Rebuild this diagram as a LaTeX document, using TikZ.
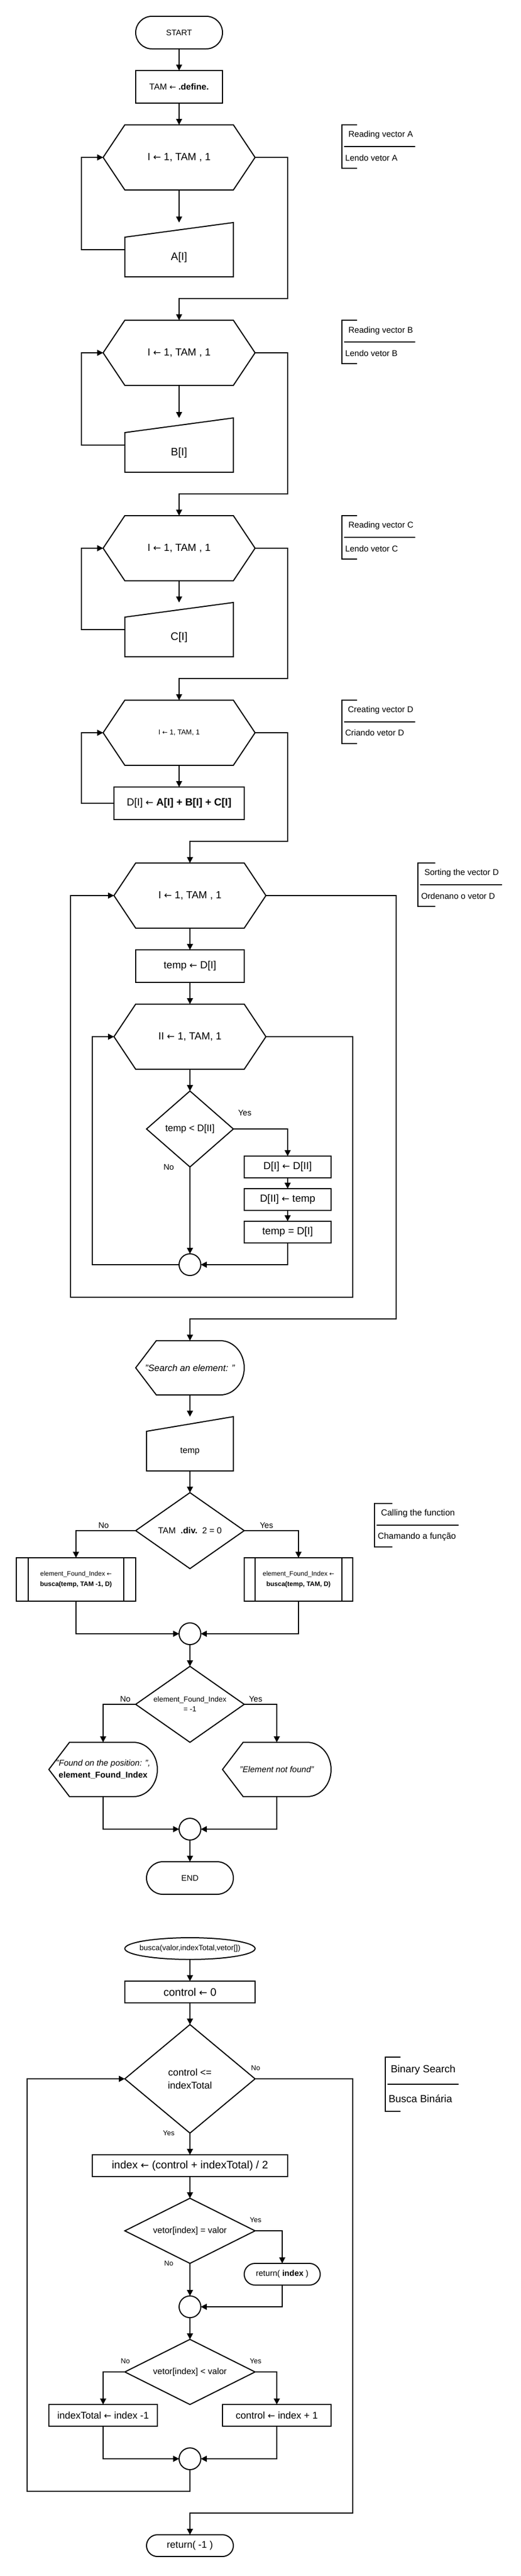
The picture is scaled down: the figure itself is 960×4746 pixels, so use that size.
\documentclass[tikz,border=0pt]{standalone}
\usepackage{fontspec}
\setmainfont{Liberation Sans}
\newfontfamily\arrowfont[Scale=0.9]{DejaVu Sans}
\usetikzlibrary{arrows.meta,shapes.geometric}
\newcommand\la{{\arrowfont ←}}
\newcommand\fs[2]{\fontsize{#1}{#2}\selectfont}
\tikzset{
  every node/.style={inner sep=0pt, outer sep=0pt, align=center},
  shp/.style={line width=2pt},
  ln/.style={line width=1.8pt},
  arr/.style={ln, -{Triangle[length=11pt,width=11pt]}},
  ghost/.style={rectangle},
  proc/.style={rectangle, draw, shp},
  term/.style={rectangle, draw, shp, rounded corners=#1},
  junc/.style={circle, draw, shp, minimum size=40pt},
  ellip/.style={ellipse, draw, shp},
  yn/.style={font=\fs{15}{18}},
  yns/.style={font=\fs{13}{16}},
  ann/.style={anchor=west, font=\fs{15.5}{18}},
  annb/.style={anchor=west, font=\fs{19}{22}}
}
% hexagon (loop)
\newcommand\hexa[4][\fs{19}{23}]{%
  \node[ghost, minimum width=280pt, minimum height=120pt, font=#1] (#2) at (#3) {#4};
  \draw[shp] (#2.west) -- ([xshift=40pt]#2.north west) -- ([xshift=-40pt]#2.north east)
    -- (#2.east) -- ([xshift=-40pt]#2.south east) -- ([xshift=40pt]#2.south west) -- cycle;}
% manual input
\newcommand\manin[5][\fs{20}{24}]{%
  \node[ghost, minimum width=#4pt, minimum height=100pt,
    label={[font=#1, yshift=-14pt]center:#5}] (#2) at (#3) {};
  \draw[shp] ([yshift=-27pt]#2.north west) -- (#2.north east) -- (#2.south east)
    -- (#2.south west) -- cycle;}
% decision
\newcommand\dia[6][]{%
  \node[ghost, minimum width=#4pt, minimum height=#5pt, #1] (#2) at (#3) {#6};
  \draw[shp] (#2.north) -- (#2.east) -- (#2.south) -- (#2.west) -- cycle;}
% display
\newcommand\disp[5][]{%
  \node[ghost, minimum width=#4pt, minimum height=100pt, #1] (#2) at (#3) {#5};
  \draw[shp] (#2.west) -- ([xshift=38pt]#2.north west) -- ([xshift=-44pt]#2.north east)
    arc[start angle=90, end angle=-90, x radius=44pt, y radius=50pt]
    -- ([xshift=38pt]#2.south west) -- cycle;}
% predefined process
\newcommand\subr[6][]{%
  \node[proc, minimum width=#4pt, minimum height=80pt, #1] (#2) at (#3) {#6};
  \draw[shp] ([xshift=#5pt]#2.north west) -- ([xshift=#5pt]#2.south west);
  \draw[shp] ([xshift=-#5pt]#2.north east) -- ([xshift=-#5pt]#2.south east);}
% annotation bracket
\newcommand\annot[6]{%
  \draw[shp] (#5,#2) -- (#1,#2) -- (#1,#4) -- (#5,#4);
  \draw[shp] (#1+4,#3) -- (#6,#3);}
\begin{document}
\begin{tikzpicture}[x=1pt,y=-1pt]
\useasboundingbox (0,0) rectangle (960,4746);
\fill[white] (0,0) rectangle (960,4746);

% ================= main program
\node[term=30pt, minimum width=160pt, minimum height=60pt, font=\fs{15}{18}] (start) at (330,60) {START};
\node[proc, minimum width=160pt, minimum height=60pt, font=\fs{16}{19}] (tam) at (330,160) {TAM \la{} \textbf{.define.}};
\hexa{h1}{330,290}{I \la{} 1, TAM , 1}
\manin{ia}{330,460}{200}{A[I]}
\hexa{h2}{330,650}{I \la{} 1, TAM , 1}
\manin{ib}{330,820}{200}{B[I]}
\hexa{h3}{330,1010}{I \la{} 1, TAM , 1}
\manin{ic}{330,1160}{200}{C[I]}
\hexa[\fs{13}{16}]{h4}{330,1350}{I \la{} 1, TAM, 1}
\node[proc, minimum width=240pt, minimum height=60pt, font=\fs{19}{23}] (dsum) at (330,1480) {D[I] \la{} \textbf{A[I] + B[I] + C[I]}};

\draw[arr] (start) -- (tam);
\draw[arr] (tam) -- (h1.north);
\draw[arr] (h1.south) -- (ia.north);
\draw[arr] (ia.west) -- ++(-80,0) |- (h1.west);
\draw[arr] (h1.east) -- ++(60,0) -- ++(0,260) -| (h2.north);
\draw[arr] (h2.south) -- (ib.north);
\draw[arr] (ib.west) -- ++(-80,0) |- (h2.west);
\draw[arr] (h2.east) -- ++(60,0) -- ++(0,260) -| (h3.north);
\draw[arr] (h3.south) -- (ic.north);
\draw[arr] (ic.west) -- ++(-80,0) |- (h3.west);
\draw[arr] (h3.east) -- ++(60,0) -- ++(0,240) -| (h4.north);
\draw[arr] (h4.south) -- (dsum.north);
\draw[arr] (dsum.west) -- ++(-60,0) |- (h4.west);

% ---- sorting
\hexa{h5}{350,1650}{I \la{} 1, TAM , 1}
\node[proc, minimum width=200pt, minimum height=60pt, font=\fs{19}{23}] (tmp) at (350,1780) {temp \la{} D[I]};
\hexa{h6}{350,1910}{II \la{} 1, TAM, 1}
\dia[font=\fs{17.5}{21}]{d1}{350,2080}{160}{140}{temp < D[II]}
\node[proc, minimum width=160pt, minimum height=40pt, font=\fs{19}{23}] (b1) at (530,2150) {D[I] \la{} D[II]};
\node[proc, minimum width=160pt, minimum height=40pt, font=\fs{19}{23}] (b2) at (530,2210) {D[II] \la{} temp};
\node[proc, minimum width=160pt, minimum height=40pt, font=\fs{19}{23}] (b3) at (530,2270) {temp = D[I]};
\node[junc] (j1) at (350,2330) {};
\node[yn] (y1) at (451,2050) {Yes};
\node[yn] (n1) at (311,2150) {No};

\draw[arr] (h4.east) -- ++(60,0) -- ++(0,200) -| (h5.north);
\draw[arr] (h5.south) -- (tmp.north);
\draw[arr] (tmp.south) -- (h6.north);
\draw[arr] (h6.south) -- (d1.north);
\draw[arr] (d1.east) -| (b1.north);
\draw[arr] (b1.south) -- (b2.north);
\draw[arr] (b2.south) -- (b3.north);
\draw[arr] (b3.south) |- (j1.east);
\draw[arr] (d1.south) -- (j1.north);
\draw[arr] (j1.west) -- ++(-160,0) |- (h6.west);
\draw[arr] (h6.east) -- ++(160,0) -- ++(0,480) -- ++(-520,0) |- (h5.west);

% ---- search
\disp[font=\fs{17}{20}\itshape]{srch}{350,2520}{200}{"Search an element: "}
\manin[\fs{16}{19}]{itemp}{350,2660}{160}{temp}
\dia[font=\fs{16}{19}]{d2}{350,2820}{200}{140}{TAM\ \ \textbf{.div.}\ \ 2 = 0}
\subr[font=\fs{12}{19}]{s1}{140,2910}{220}{22}{element\_Found\_Index \la{}\\\textbf{busca(temp, TAM -1, D)}}
\subr[font=\fs{12}{19}]{s2}{550,2910}{200}{20}{element\_Found\_Index \la{}\\\textbf{busca(temp, TAM, D)}}
\node[junc] (j2) at (350,3010) {};
\dia[font=\fs{13.5}{18}]{d3}{350,3140}{200}{140}{element\_Found\_Index\\= -1}
\disp[font=\fs{15.5}{22}]{o1}{190,3260}{200}{\textit{"Found on the position: ",}\\\textbf{element\_Found\_Index}}
\disp[font=\fs{15.5}{19}\itshape]{o2}{510,3260}{200}{"Element not found"}
\node[junc] (j3) at (350,3370) {};
\node[term=30pt, minimum width=160pt, minimum height=60pt, font=\fs{15}{18}] (fim) at (350,3460) {END};
\node[yn] (n2) at (191,2810) {No};
\node[yn] (y2) at (491,2810) {Yes};
\node[yn] (n3) at (231,3130) {No};
\node[yn] (y3) at (471,3130) {Yes};

\draw[arr] (h5.east) -- ++(240,0) -- ++(0,780) -| (srch.north);
\draw[arr] (srch.south) -- (itemp.north);
\draw[arr] (itemp.south) -- (d2.north);
\draw[arr] (d2.west) -| (s1.north);
\draw[arr] (d2.east) -| (s2.north);
\draw[arr] (s1.south) |- (j2.west);
\draw[arr] (s2.south) |- (j2.east);
\draw[arr] (j2.south) -- (d3.north);
\draw[arr] (d3.west) -| (o1.north);
\draw[arr] (d3.east) -| (o2.north);
\draw[arr] (o1.south) |- (j3.west);
\draw[arr] (o2.south) |- (j3.east);
\draw[arr] (j3.south) -- (fim.north);

% ================= binary search function
\node[ellip, minimum width=240pt, minimum height=40pt, font=\fs{14}{17}] (busca) at (350,3590) {\makebox[0pt]{busca(valor,indexTotal,vetor[])}};
\node[proc, minimum width=240pt, minimum height=40pt, font=\fs{20}{24}] (ctrl) at (350,3670) {control \la{} 0};
\dia[font=\fs{18}{24}]{d4}{350,3830}{240}{200}{control <=\\indexTotal}
\node[proc, minimum width=360pt, minimum height=40pt, font=\fs{20}{24}] (idx) at (350,3990) {index \la{} (control + indexTotal) / 2};
\dia[font=\fs{16}{19}]{d5}{350,4110}{240}{120}{vetor[index] = valor}
\node[term=20pt, minimum width=140pt, minimum height=40pt, font=\fs{15}{18}] (ret1) at (520,4190) {return( \textbf{index} )};
\node[junc] (j4) at (350,4250) {};
\dia[font=\fs{16}{19}]{d6}{350,4370}{240}{120}{vetor[index] < valor}
\node[proc, minimum width=200pt, minimum height=40pt, font=\fs{18}{22}] (bl) at (190,4450) {indexTotal \la{} index -1};
\node[proc, minimum width=200pt, minimum height=40pt, font=\fs{18}{22}] (br) at (510,4450) {control \la{} index + 1};
\node[junc] (j5) at (350,4530) {};
\node[term=20pt, minimum width=160pt, minimum height=40pt, font=\fs{18}{22}] (ret2) at (350,4690) {return( -1 )};
\node[yns] (n4) at (471,3810) {No};
\node[yns] (y4) at (311,3930) {Yes};
\node[yns] (y5) at (471,4090) {Yes};
\node[yns] (n5) at (311,4170) {No};
\node[yns] (n6) at (231,4350) {No};
\node[yns] (y6) at (471,4350) {Yes};

\draw[arr] (busca.south) -- (ctrl.north);
\draw[arr] (ctrl.south) -- (d4.north);
\draw[arr] (d4.south) -- (idx.north);
\draw[arr] (idx.south) -- (d5.north);
\draw[arr] (d5.east) -| (ret1.north);
\draw[arr] (ret1.south) |- (j4.east);
\draw[arr] (d5.south) -- (j4.north);
\draw[arr] (j4.south) -- (d6.north);
\draw[arr] (d6.west) -| (bl.north);
\draw[arr] (d6.east) -| (br.north);
\draw[arr] (bl.south) |- (j5.west);
\draw[arr] (br.south) |- (j5.east);
\draw[arr] (j5.south) -- ++(0,40) -- ++(-300,0) |- (d4.west);
\draw[arr] (d4.east) -- ++(180,0) -- ++(0,800) -| (ret2.north);

% ================= annotations
\annot{630}{230}{270}{310}{658}{765}
\node[ann] (ta1) at (642,248) {Reading vector A};
\node[ann] (ta2) at (636,291) {Lendo vetor A};
\annot{630}{590}{630}{670}{658}{765}
\node[ann] (tb1) at (642,609) {Reading vector B};
\node[ann] (tb2) at (636,651) {Lendo vetor B};
\annot{630}{950}{990}{1030}{658}{765}
\node[ann] (tc1) at (642,968) {Reading vector C};
\node[ann] (tc2) at (636,1011) {Lendo vetor C};
\annot{630}{1290}{1330}{1370}{658}{765}
\node[ann] (td1) at (641,1308) {Creating vector D};
\node[ann] (td2) at (636,1350) {Criando vetor D};
\annot{770}{1590}{1630}{1670}{802}{925}
\node[ann] (te1) at (782,1608) {Sorting the vector D};
\node[ann] (te2) at (776,1651) {Ordenano o vetor D};
\annot{690}{2770}{2810}{2850}{723}{845}
\node[ann, font=\fs{16}{19}] (tf1) at (702,2788) {Calling the function};
\node[ann, font=\fs{16}{19}] (tf2) at (696,2831) {Chamando a função};
\annot{710}{3790}{3840}{3890}{738}{845}
\node[annb] (tg1) at (720,3814) {Binary Search};
\node[annb] (tg2) at (716,3867) {Busca Binária};
\end{tikzpicture}
\end{document}
